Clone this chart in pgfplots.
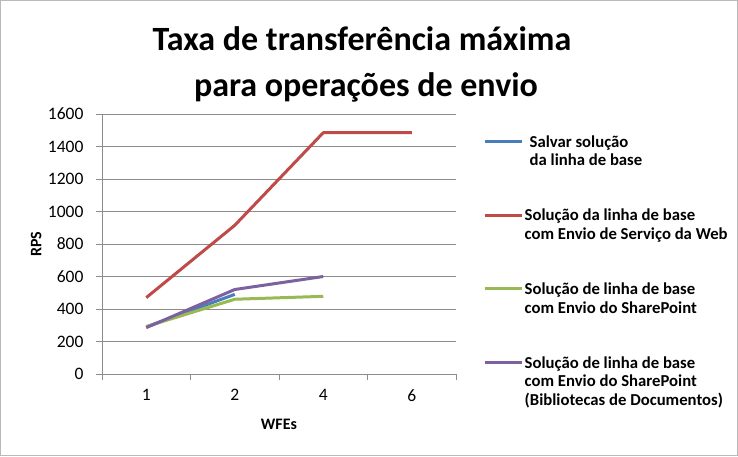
\documentclass[border=0pt]{standalone}
\usepackage{pgfplots}
\pgfplotsset{compat=1.18}
\usepackage{fontspec}
\setmainfont{Carlito}
\definecolor{sBlue}{HTML}{4A7EBB}
\definecolor{sRed}{HTML}{BE4B48}
\definecolor{sGreen}{HTML}{98B954}
\definecolor{sPurple}{HTML}{7D60A0}
\definecolor{gridgray}{HTML}{8C8C8C}
\newcommand{\legtab}[1]{\begin{tabular}[t]{@{}l@{}}#1\end{tabular}}
\newcommand{\legtabb}[1]{\begin{tabular}[t]{@{\hspace{5pt}}l@{}}#1\end{tabular}}
\begin{document}
\begin{tikzpicture}[x=1pt,y=1pt]
\draw[gray!55, line width=1pt] (0.5,0.5) rectangle (737.5,455.5);
\node[anchor=base, font=\fontsize{34}{40}\selectfont\bfseries] at (362,405.5) {Taxa de transferência máxima};
\node[anchor=base, font=\fontsize{34}{40}\selectfont\bfseries] at (366,359) {para operações de envio};
\begin{axis}[
  at={(102pt,82pt)}, anchor=south west,
  scale only axis, width=354pt, height=260pt,
  xmin=-0.5, xmax=3.5, ymin=0, ymax=1600,
  axis lines*=left,
  axis line style={gridgray, line width=0.8pt},
  xtick={0,1,2,3}, xticklabels={1,2,4,6},
  minor xtick={-0.5,0.5,1.5,2.5,3.5},
  ytick={0,200,...,1600},
  tick align=outside,
  major tick length=6pt, minor tick length=6pt,
  x tick style={draw=none},
  minor x tick style={draw=gridgray, line width=0.8pt},
  y tick style={draw=gridgray, line width=0.8pt},
  ymajorgrids, grid style={gridgray, line width=0.8pt},
  /pgf/number format/assume math mode=true,
  /pgf/number format/1000 sep={},
  tick label style={font=\fontsize{17.5}{20}\selectfont},
  yticklabel style={xshift=-9pt},
  xticklabel style={yshift=-6pt},
  every axis y label/.style={at={(axis description cs:-0.186,0.5)}, rotate=90, anchor=center, font=\fontsize{16}{18}\selectfont\bfseries},
  every axis x label/.style={at={(axis description cs:0.5,-0.192)}, anchor=center, font=\fontsize{16}{18}\selectfont\bfseries},
  ylabel={RPS}, xlabel={WFEs},
  legend style={draw=none, fill=none, inner sep=0pt, at={(axis description cs:1.0763,0.929)}, anchor=north west,
    nodes={font=\fontsize{16.7}{18.7}\selectfont\bfseries, inner sep=1.5pt}, row sep=56pt},
  legend cell align=left,
  legend image code/.code={\draw[#1] (0pt,0pt) -- (37pt,0pt);},
  line join=round,
]
\addplot[sBlue, line width=3pt] coordinates {(0,290) (1,490)};
\addlegendentry{\legtabb{Salvar solução\\da linha de base}}
\addplot[sRed, line width=3pt] coordinates {(0,470) (1,915) (2,1485) (3,1485)};
\addlegendentry{\legtab{Solução da linha de base\\com Envio de Serviço da Web}}
\addplot[sGreen, line width=3pt] coordinates {(0,292) (1,460) (2,478)};
\addlegendentry{\legtab{Solução de linha de base\\com Envio do SharePoint}}
\addplot[sPurple, line width=3pt] coordinates {(0,285) (1,520) (2,600)};
\addlegendentry{\legtab{Solução de linha de base\\com Envio do SharePoint\\(Bibliotecas de Documentos)}}
\end{axis}
\end{tikzpicture}
\end{document}
